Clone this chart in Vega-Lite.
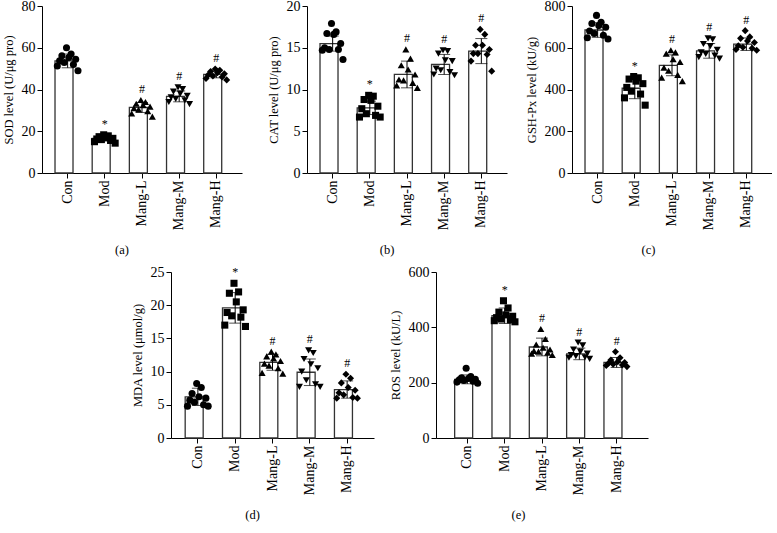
{
  "$schema": "https://vega.github.io/schema/vega-lite/v6.json",
  "background": "white",
  "padding": {"left": 2, "top": -2, "right": 0, "bottom": 0},
  "config": {
    "view": {"stroke": null},
    "font": "Liberation Serif",
    "axis": {"domainColor": "black", "tickColor": "black", "labelColor": "black", "titleColor": "black", "labelFont": "Liberation Serif", "titleFont": "Liberation Serif", "labelFontSize": 14, "titleFontSize": 12.5, "titleFontWeight": "normal", "grid": false, "tickSize": 5, "domainWidth": 1, "tickWidth": 1, "labelPadding": 2, "labelOverlap": false},
    "axisY": {"titlePadding": 6},
    "title": {"font": "Liberation Serif", "fontSize": 12.5, "fontWeight": "normal", "color": "black", "orient": "bottom", "anchor": "middle", "frame": "bounds", "offset": 14}
  },
  "datasets": {
    "sod": [
      {"group": "Con", "rep": 5, "value": 60.0}, {"group": "Con", "rep": 7, "value": 57.0}, {"group": "Con", "rep": 3, "value": 56.2}, {"group": "Con", "rep": 6, "value": 55.3}, {"group": "Con", "rep": 9, "value": 54.5}, {"group": "Con", "rep": 2, "value": 53.7}, {"group": "Con", "rep": 4, "value": 52.9}, {"group": "Con", "rep": 8, "value": 52.0}, {"group": "Con", "rep": 1, "value": 51.3}, {"group": "Con", "rep": 10, "value": 49.0},
      {"group": "Mod", "rep": 5, "value": 18.3}, {"group": "Mod", "rep": 7, "value": 17.8}, {"group": "Mod", "rep": 3, "value": 17.4}, {"group": "Mod", "rep": 6, "value": 17.0}, {"group": "Mod", "rep": 9, "value": 16.6}, {"group": "Mod", "rep": 2, "value": 16.3}, {"group": "Mod", "rep": 4, "value": 16.0}, {"group": "Mod", "rep": 8, "value": 15.6}, {"group": "Mod", "rep": 1, "value": 15.0}, {"group": "Mod", "rep": 10, "value": 14.3},
      {"group": "Mang-L", "rep": 5, "value": 35.0}, {"group": "Mang-L", "rep": 7, "value": 34.0}, {"group": "Mang-L", "rep": 3, "value": 33.2}, {"group": "Mang-L", "rep": 6, "value": 32.5}, {"group": "Mang-L", "rep": 9, "value": 31.8}, {"group": "Mang-L", "rep": 2, "value": 31.0}, {"group": "Mang-L", "rep": 4, "value": 30.4}, {"group": "Mang-L", "rep": 8, "value": 29.6}, {"group": "Mang-L", "rep": 1, "value": 28.5}, {"group": "Mang-L", "rep": 10, "value": 27.0},
      {"group": "Mang-M", "rep": 5, "value": 41.0}, {"group": "Mang-M", "rep": 7, "value": 40.2}, {"group": "Mang-M", "rep": 3, "value": 39.0}, {"group": "Mang-M", "rep": 6, "value": 38.0}, {"group": "Mang-M", "rep": 9, "value": 37.0}, {"group": "Mang-M", "rep": 2, "value": 36.2}, {"group": "Mang-M", "rep": 4, "value": 35.5}, {"group": "Mang-M", "rep": 8, "value": 34.8}, {"group": "Mang-M", "rep": 1, "value": 34.0}, {"group": "Mang-M", "rep": 10, "value": 33.0},
      {"group": "Mang-H", "rep": 5, "value": 49.8}, {"group": "Mang-H", "rep": 7, "value": 49.2}, {"group": "Mang-H", "rep": 3, "value": 48.6}, {"group": "Mang-H", "rep": 6, "value": 48.0}, {"group": "Mang-H", "rep": 9, "value": 47.5}, {"group": "Mang-H", "rep": 2, "value": 47.0}, {"group": "Mang-H", "rep": 4, "value": 46.5}, {"group": "Mang-H", "rep": 8, "value": 46.0}, {"group": "Mang-H", "rep": 1, "value": 45.3}, {"group": "Mang-H", "rep": 10, "value": 44.6}
    ],
    "sod_sum": [
      {"group": "Con", "mean": 53.7, "lo": 50.4, "hi": 57.0, "sig": ""},
      {"group": "Mod", "mean": 16.6, "lo": 15.3, "hi": 17.9, "sig": "*"},
      {"group": "Mang-L", "mean": 31.4, "lo": 29.0, "hi": 33.8, "sig": "#"},
      {"group": "Mang-M", "mean": 36.7, "lo": 34.1, "hi": 39.3, "sig": "#"},
      {"group": "Mang-H", "mean": 47.2, "lo": 45.6, "hi": 48.8, "sig": "#"}
    ],
    "cat": [
      {"group": "Con", "rep": 5, "value": 17.9}, {"group": "Con", "rep": 7, "value": 16.9}, {"group": "Con", "rep": 3, "value": 16.7}, {"group": "Con", "rep": 6, "value": 16.6}, {"group": "Con", "rep": 9, "value": 15.5}, {"group": "Con", "rep": 2, "value": 15.0}, {"group": "Con", "rep": 4, "value": 14.8}, {"group": "Con", "rep": 8, "value": 14.8}, {"group": "Con", "rep": 1, "value": 14.7}, {"group": "Con", "rep": 10, "value": 13.6},
      {"group": "Mod", "rep": 5, "value": 9.3}, {"group": "Mod", "rep": 7, "value": 9.2}, {"group": "Mod", "rep": 3, "value": 8.8}, {"group": "Mod", "rep": 6, "value": 8.7}, {"group": "Mod", "rep": 9, "value": 8.0}, {"group": "Mod", "rep": 2, "value": 7.7}, {"group": "Mod", "rep": 4, "value": 7.1}, {"group": "Mod", "rep": 8, "value": 6.9}, {"group": "Mod", "rep": 1, "value": 6.7}, {"group": "Mod", "rep": 10, "value": 6.7},
      {"group": "Mang-L", "rep": 5, "value": 14.8}, {"group": "Mang-L", "rep": 7, "value": 13.7}, {"group": "Mang-L", "rep": 3, "value": 12.9}, {"group": "Mang-L", "rep": 6, "value": 12.4}, {"group": "Mang-L", "rep": 9, "value": 11.8}, {"group": "Mang-L", "rep": 2, "value": 11.2}, {"group": "Mang-L", "rep": 4, "value": 11.1}, {"group": "Mang-L", "rep": 8, "value": 10.8}, {"group": "Mang-L", "rep": 1, "value": 10.5}, {"group": "Mang-L", "rep": 10, "value": 10.2},
      {"group": "Mang-M", "rep": 5, "value": 14.7}, {"group": "Mang-M", "rep": 7, "value": 14.6}, {"group": "Mang-M", "rep": 3, "value": 14.3}, {"group": "Mang-M", "rep": 6, "value": 13.5}, {"group": "Mang-M", "rep": 9, "value": 13.4}, {"group": "Mang-M", "rep": 2, "value": 12.5}, {"group": "Mang-M", "rep": 4, "value": 12.3}, {"group": "Mang-M", "rep": 8, "value": 12.1}, {"group": "Mang-M", "rep": 1, "value": 11.8}, {"group": "Mang-M", "rep": 10, "value": 11.7},
      {"group": "Mang-H", "rep": 5, "value": 17.2}, {"group": "Mang-H", "rep": 7, "value": 16.6}, {"group": "Mang-H", "rep": 3, "value": 15.3}, {"group": "Mang-H", "rep": 6, "value": 15.3}, {"group": "Mang-H", "rep": 9, "value": 14.8}, {"group": "Mang-H", "rep": 2, "value": 14.3}, {"group": "Mang-H", "rep": 4, "value": 14.3}, {"group": "Mang-H", "rep": 8, "value": 14.2}, {"group": "Mang-H", "rep": 1, "value": 13.4}, {"group": "Mang-H", "rep": 10, "value": 12.2}
    ],
    "cat_sum": [
      {"group": "Con", "mean": 15.5, "lo": 14.6, "hi": 16.4, "sig": ""},
      {"group": "Mod", "mean": 7.8, "lo": 7.0, "hi": 8.6, "sig": "*"},
      {"group": "Mang-L", "mean": 11.8, "lo": 10.2, "hi": 13.4, "sig": "#"},
      {"group": "Mang-M", "mean": 13.0, "lo": 11.8, "hi": 14.2, "sig": "#"},
      {"group": "Mang-H", "mean": 14.6, "lo": 13.1, "hi": 16.1, "sig": "#"}
    ],
    "gsh": [
      {"group": "Con", "rep": 5, "value": 755}, {"group": "Con", "rep": 7, "value": 722}, {"group": "Con", "rep": 3, "value": 716}, {"group": "Con", "rep": 6, "value": 706}, {"group": "Con", "rep": 9, "value": 698}, {"group": "Con", "rep": 2, "value": 680}, {"group": "Con", "rep": 4, "value": 668}, {"group": "Con", "rep": 8, "value": 660}, {"group": "Con", "rep": 1, "value": 648}, {"group": "Con", "rep": 10, "value": 642},
      {"group": "Mod", "rep": 5, "value": 462}, {"group": "Mod", "rep": 7, "value": 456}, {"group": "Mod", "rep": 3, "value": 450}, {"group": "Mod", "rep": 6, "value": 440}, {"group": "Mod", "rep": 9, "value": 428}, {"group": "Mod", "rep": 2, "value": 410}, {"group": "Mod", "rep": 4, "value": 392}, {"group": "Mod", "rep": 8, "value": 378}, {"group": "Mod", "rep": 1, "value": 360}, {"group": "Mod", "rep": 10, "value": 325},
      {"group": "Mang-L", "rep": 5, "value": 588}, {"group": "Mang-L", "rep": 7, "value": 578}, {"group": "Mang-L", "rep": 3, "value": 572}, {"group": "Mang-L", "rep": 6, "value": 545}, {"group": "Mang-L", "rep": 9, "value": 532}, {"group": "Mang-L", "rep": 2, "value": 505}, {"group": "Mang-L", "rep": 4, "value": 490}, {"group": "Mang-L", "rep": 8, "value": 470}, {"group": "Mang-L", "rep": 1, "value": 457}, {"group": "Mang-L", "rep": 10, "value": 440},
      {"group": "Mang-M", "rep": 5, "value": 645}, {"group": "Mang-M", "rep": 7, "value": 640}, {"group": "Mang-M", "rep": 3, "value": 618}, {"group": "Mang-M", "rep": 6, "value": 608}, {"group": "Mang-M", "rep": 9, "value": 590}, {"group": "Mang-M", "rep": 2, "value": 578}, {"group": "Mang-M", "rep": 4, "value": 570}, {"group": "Mang-M", "rep": 8, "value": 562}, {"group": "Mang-M", "rep": 1, "value": 555}, {"group": "Mang-M", "rep": 10, "value": 548},
      {"group": "Mang-H", "rep": 5, "value": 682}, {"group": "Mang-H", "rep": 7, "value": 652}, {"group": "Mang-H", "rep": 3, "value": 645}, {"group": "Mang-H", "rep": 6, "value": 632}, {"group": "Mang-H", "rep": 9, "value": 625}, {"group": "Mang-H", "rep": 2, "value": 610}, {"group": "Mang-H", "rep": 4, "value": 602}, {"group": "Mang-H", "rep": 8, "value": 598}, {"group": "Mang-H", "rep": 1, "value": 592}, {"group": "Mang-H", "rep": 10, "value": 588}
    ],
    "gsh_sum": [
      {"group": "Con", "mean": 685, "lo": 650, "hi": 720, "sig": ""},
      {"group": "Mod", "mean": 406, "lo": 356, "hi": 456, "sig": "*"},
      {"group": "Mang-L", "mean": 516, "lo": 466, "hi": 566, "sig": "#"},
      {"group": "Mang-M", "mean": 585, "lo": 550, "hi": 620, "sig": "#"},
      {"group": "Mang-H", "mean": 617, "lo": 587, "hi": 647, "sig": "#"}
    ],
    "mda": [
      {"group": "Con", "rep": 5, "value": 8.2}, {"group": "Con", "rep": 7, "value": 7.6}, {"group": "Con", "rep": 3, "value": 6.7}, {"group": "Con", "rep": 6, "value": 6.2}, {"group": "Con", "rep": 9, "value": 6.0}, {"group": "Con", "rep": 2, "value": 5.7}, {"group": "Con", "rep": 4, "value": 5.4}, {"group": "Con", "rep": 8, "value": 5.0}, {"group": "Con", "rep": 1, "value": 4.8}, {"group": "Con", "rep": 10, "value": 4.8},
      {"group": "Mod", "rep": 5, "value": 23.3}, {"group": "Mod", "rep": 7, "value": 22.0}, {"group": "Mod", "rep": 3, "value": 21.8}, {"group": "Mod", "rep": 6, "value": 20.5}, {"group": "Mod", "rep": 9, "value": 19.3}, {"group": "Mod", "rep": 2, "value": 18.9}, {"group": "Mod", "rep": 4, "value": 18.4}, {"group": "Mod", "rep": 8, "value": 18.2}, {"group": "Mod", "rep": 1, "value": 17.0}, {"group": "Mod", "rep": 10, "value": 16.8},
      {"group": "Mang-L", "rep": 5, "value": 13.0}, {"group": "Mang-L", "rep": 7, "value": 12.6}, {"group": "Mang-L", "rep": 3, "value": 12.3}, {"group": "Mang-L", "rep": 6, "value": 12.0}, {"group": "Mang-L", "rep": 9, "value": 11.6}, {"group": "Mang-L", "rep": 2, "value": 11.2}, {"group": "Mang-L", "rep": 4, "value": 10.9}, {"group": "Mang-L", "rep": 8, "value": 10.5}, {"group": "Mang-L", "rep": 1, "value": 9.8}, {"group": "Mang-L", "rep": 10, "value": 9.7},
      {"group": "Mang-M", "rep": 5, "value": 13.2}, {"group": "Mang-M", "rep": 7, "value": 12.8}, {"group": "Mang-M", "rep": 3, "value": 11.9}, {"group": "Mang-M", "rep": 6, "value": 11.1}, {"group": "Mang-M", "rep": 9, "value": 10.5}, {"group": "Mang-M", "rep": 2, "value": 10.0}, {"group": "Mang-M", "rep": 4, "value": 8.7}, {"group": "Mang-M", "rep": 8, "value": 8.1}, {"group": "Mang-M", "rep": 1, "value": 7.7}, {"group": "Mang-M", "rep": 10, "value": 7.7},
      {"group": "Mang-H", "rep": 5, "value": 9.6}, {"group": "Mang-H", "rep": 7, "value": 9.0}, {"group": "Mang-H", "rep": 3, "value": 8.3}, {"group": "Mang-H", "rep": 6, "value": 7.6}, {"group": "Mang-H", "rep": 9, "value": 7.2}, {"group": "Mang-H", "rep": 2, "value": 6.8}, {"group": "Mang-H", "rep": 4, "value": 6.5}, {"group": "Mang-H", "rep": 8, "value": 6.1}, {"group": "Mang-H", "rep": 1, "value": 6.0}, {"group": "Mang-H", "rep": 10, "value": 6.0}
    ],
    "mda_sum": [
      {"group": "Con", "mean": 6.2, "lo": 4.9, "hi": 7.5, "sig": ""},
      {"group": "Mod", "mean": 19.6, "lo": 17.3, "hi": 21.9, "sig": "*"},
      {"group": "Mang-L", "mean": 11.4, "lo": 10.2, "hi": 12.6, "sig": "#"},
      {"group": "Mang-M", "mean": 9.9, "lo": 7.9, "hi": 11.9, "sig": "#"},
      {"group": "Mang-H", "mean": 7.3, "lo": 6.0, "hi": 8.6, "sig": "#"}
    ],
    "ros": [
      {"group": "Con", "rep": 5, "value": 252}, {"group": "Con", "rep": 7, "value": 222}, {"group": "Con", "rep": 3, "value": 218}, {"group": "Con", "rep": 6, "value": 215}, {"group": "Con", "rep": 9, "value": 212}, {"group": "Con", "rep": 2, "value": 210}, {"group": "Con", "rep": 4, "value": 208}, {"group": "Con", "rep": 8, "value": 205}, {"group": "Con", "rep": 1, "value": 202}, {"group": "Con", "rep": 10, "value": 198},
      {"group": "Mod", "rep": 5, "value": 496}, {"group": "Mod", "rep": 7, "value": 470}, {"group": "Mod", "rep": 3, "value": 455}, {"group": "Mod", "rep": 6, "value": 445}, {"group": "Mod", "rep": 9, "value": 440}, {"group": "Mod", "rep": 2, "value": 435}, {"group": "Mod", "rep": 4, "value": 430}, {"group": "Mod", "rep": 8, "value": 427}, {"group": "Mod", "rep": 1, "value": 424}, {"group": "Mod", "rep": 10, "value": 420},
      {"group": "Mang-L", "rep": 5, "value": 394}, {"group": "Mang-L", "rep": 7, "value": 358}, {"group": "Mang-L", "rep": 3, "value": 338}, {"group": "Mang-L", "rep": 6, "value": 326}, {"group": "Mang-L", "rep": 9, "value": 320}, {"group": "Mang-L", "rep": 2, "value": 315}, {"group": "Mang-L", "rep": 4, "value": 312}, {"group": "Mang-L", "rep": 8, "value": 308}, {"group": "Mang-L", "rep": 1, "value": 305}, {"group": "Mang-L", "rep": 10, "value": 300},
      {"group": "Mang-M", "rep": 5, "value": 345}, {"group": "Mang-M", "rep": 7, "value": 335}, {"group": "Mang-M", "rep": 3, "value": 320}, {"group": "Mang-M", "rep": 6, "value": 312}, {"group": "Mang-M", "rep": 9, "value": 305}, {"group": "Mang-M", "rep": 2, "value": 300}, {"group": "Mang-M", "rep": 4, "value": 296}, {"group": "Mang-M", "rep": 8, "value": 292}, {"group": "Mang-M", "rep": 1, "value": 290}, {"group": "Mang-M", "rep": 10, "value": 286},
      {"group": "Mang-H", "rep": 5, "value": 312}, {"group": "Mang-H", "rep": 7, "value": 290}, {"group": "Mang-H", "rep": 3, "value": 282}, {"group": "Mang-H", "rep": 6, "value": 276}, {"group": "Mang-H", "rep": 9, "value": 273}, {"group": "Mang-H", "rep": 2, "value": 270}, {"group": "Mang-H", "rep": 4, "value": 267}, {"group": "Mang-H", "rep": 8, "value": 264}, {"group": "Mang-H", "rep": 1, "value": 262}, {"group": "Mang-H", "rep": 10, "value": 258}
    ],
    "ros_sum": [
      {"group": "Con", "mean": 212, "lo": 196, "hi": 228, "sig": ""},
      {"group": "Mod", "mean": 442, "lo": 414, "hi": 470, "sig": "*"},
      {"group": "Mang-L", "mean": 329, "lo": 297, "hi": 361, "sig": "#"},
      {"group": "Mang-M", "mean": 304, "lo": 283, "hi": 325, "sig": "#"},
      {"group": "Mang-H", "mean": 273, "lo": 255, "hi": 291, "sig": "#"}
    ]
  },
  "vconcat": [
    {
      "hconcat": [
        {
          "width": 200, "height": 167,
          "title": {"text": "(a)"},
          "data": {"name": "sod"},
          "layer": [
            {"data": {"name": "sod_sum"}, "mark": {"type": "bar", "fill": "white", "stroke": "#333", "strokeWidth": 1.3},
             "encoding": {"x": {"field": "group", "type": "nominal", "title": null, "scale": {"domain": ["Con", "Mod", "Mang-L", "Mang-M", "Mang-H"], "paddingInner": 0.32, "paddingOuter": 0.35}, "axis": {"labelAngle": -90}},
                          "y": {"field": "mean", "type": "quantitative", "title": "SOD level (U/μg pro)", "scale": {"domain": [0, 80], "nice": false}, "axis": {"values": [0, 20, 40, 60, 80]}}}},
            {"data": {"name": "sod_sum"}, "mark": {"type": "errorbar", "ticks": {"size": 12, "color": "black"}, "color": "black", "thickness": 1},
             "encoding": {"x": {"field": "group", "type": "nominal"}, "y": {"field": "lo", "type": "quantitative", "title": "SOD level (U/μg pro)", "axis": {"values": [0, 20, 40, 60, 80]}}, "y2": {"field": "hi"}}},
            {"mark": {"type": "point", "filled": true, "color": "black", "size": 50, "opacity": 1},
             "encoding": {"x": {"field": "group", "type": "nominal"}, "xOffset": {"field": "rep", "type": "nominal", "scale": {"paddingOuter": 1}}, "y": {"field": "value", "type": "quantitative", "title": "SOD level (U/μg pro)", "axis": {"values": [0, 20, 40, 60, 80]}},
                          "shape": {"field": "group", "type": "nominal", "legend": null, "scale": {"domain": ["Con", "Mod", "Mang-L", "Mang-M", "Mang-H"], "range": ["circle", "square", "triangle-up", "triangle-down", "diamond"]}}}},
            {"transform": [{"aggregate": [{"op": "max", "field": "value", "as": "top"}], "groupby": ["group"]}, {"lookup": "group", "from": {"data": {"name": "sod_sum"}, "key": "group", "fields": ["sig"]}}],
             "mark": {"type": "text", "baseline": "bottom", "dy": -4, "fontSize": 12, "font": "Liberation Serif", "color": "black"},
             "encoding": {"x": {"field": "group", "type": "nominal"}, "y": {"field": "top", "type": "quantitative", "title": "SOD level (U/μg pro)", "axis": {"values": [0, 20, 40, 60, 80]}}, "text": {"field": "sig"}}}
          ]
        },
        {
          "width": 200, "height": 167,
          "title": {"text": "(b)"},
          "data": {"name": "cat"},
          "layer": [
            {"data": {"name": "cat_sum"}, "mark": {"type": "bar", "fill": "white", "stroke": "#333", "strokeWidth": 1.3},
             "encoding": {"x": {"field": "group", "type": "nominal", "title": null, "scale": {"domain": ["Con", "Mod", "Mang-L", "Mang-M", "Mang-H"], "paddingInner": 0.32, "paddingOuter": 0.35}, "axis": {"labelAngle": -90}},
                          "y": {"field": "mean", "type": "quantitative", "title": "CAT level (U/μg pro)", "scale": {"domain": [0, 20], "nice": false}, "axis": {"values": [0, 5, 10, 15, 20]}}}},
            {"data": {"name": "cat_sum"}, "mark": {"type": "errorbar", "ticks": {"size": 12, "color": "black"}, "color": "black", "thickness": 1},
             "encoding": {"x": {"field": "group", "type": "nominal"}, "y": {"field": "lo", "type": "quantitative", "title": "CAT level (U/μg pro)", "axis": {"values": [0, 5, 10, 15, 20]}}, "y2": {"field": "hi"}}},
            {"mark": {"type": "point", "filled": true, "color": "black", "size": 50, "opacity": 1},
             "encoding": {"x": {"field": "group", "type": "nominal"}, "xOffset": {"field": "rep", "type": "nominal", "scale": {"paddingOuter": 1}}, "y": {"field": "value", "type": "quantitative", "title": "CAT level (U/μg pro)", "axis": {"values": [0, 5, 10, 15, 20]}},
                          "shape": {"field": "group", "type": "nominal", "legend": null, "scale": {"domain": ["Con", "Mod", "Mang-L", "Mang-M", "Mang-H"], "range": ["circle", "square", "triangle-up", "triangle-down", "diamond"]}}}},
            {"transform": [{"aggregate": [{"op": "max", "field": "value", "as": "top"}], "groupby": ["group"]}, {"lookup": "group", "from": {"data": {"name": "cat_sum"}, "key": "group", "fields": ["sig"]}}],
             "mark": {"type": "text", "baseline": "bottom", "dy": -4, "fontSize": 12, "font": "Liberation Serif", "color": "black"},
             "encoding": {"x": {"field": "group", "type": "nominal"}, "y": {"field": "top", "type": "quantitative", "title": "CAT level (U/μg pro)", "axis": {"values": [0, 5, 10, 15, 20]}}, "text": {"field": "sig"}}}
          ]
        },
        {
          "width": 200, "height": 167,
          "title": {"text": "(c)"},
          "data": {"name": "gsh"},
          "layer": [
            {"data": {"name": "gsh_sum"}, "mark": {"type": "bar", "fill": "white", "stroke": "#333", "strokeWidth": 1.3},
             "encoding": {"x": {"field": "group", "type": "nominal", "title": null, "scale": {"domain": ["Con", "Mod", "Mang-L", "Mang-M", "Mang-H"], "paddingInner": 0.32, "paddingOuter": 0.35}, "axis": {"labelAngle": -90}},
                          "y": {"field": "mean", "type": "quantitative", "title": "GSH-Px level (kU/g)", "scale": {"domain": [0, 800], "nice": false}, "axis": {"values": [0, 200, 400, 600, 800]}}}},
            {"data": {"name": "gsh_sum"}, "mark": {"type": "errorbar", "ticks": {"size": 12, "color": "black"}, "color": "black", "thickness": 1},
             "encoding": {"x": {"field": "group", "type": "nominal"}, "y": {"field": "lo", "type": "quantitative", "title": "GSH-Px level (kU/g)", "axis": {"values": [0, 200, 400, 600, 800]}}, "y2": {"field": "hi"}}},
            {"mark": {"type": "point", "filled": true, "color": "black", "size": 50, "opacity": 1},
             "encoding": {"x": {"field": "group", "type": "nominal"}, "xOffset": {"field": "rep", "type": "nominal", "scale": {"paddingOuter": 1}}, "y": {"field": "value", "type": "quantitative", "title": "GSH-Px level (kU/g)", "axis": {"values": [0, 200, 400, 600, 800]}},
                          "shape": {"field": "group", "type": "nominal", "legend": null, "scale": {"domain": ["Con", "Mod", "Mang-L", "Mang-M", "Mang-H"], "range": ["circle", "square", "triangle-up", "triangle-down", "diamond"]}}}},
            {"transform": [{"aggregate": [{"op": "max", "field": "value", "as": "top"}], "groupby": ["group"]}, {"lookup": "group", "from": {"data": {"name": "gsh_sum"}, "key": "group", "fields": ["sig"]}}],
             "mark": {"type": "text", "baseline": "bottom", "dy": -4, "fontSize": 12, "font": "Liberation Serif", "color": "black"},
             "encoding": {"x": {"field": "group", "type": "nominal"}, "y": {"field": "top", "type": "quantitative", "title": "GSH-Px level (kU/g)", "axis": {"values": [0, 200, 400, 600, 800]}}, "text": {"field": "sig"}}}
          ]
        }
      ],
      "spacing": 65,
      "bounds": "flush"
    },
    {
      "hconcat": [
        {
          "width": 67, "height": 166,
          "data": {"values": []},
          "mark": {"type": "point", "opacity": 0},
          "encoding": {}
        },
        {
          "width": 203, "height": 166,
          "title": {"text": "(d)"},
          "data": {"name": "mda"},
          "layer": [
            {"data": {"name": "mda_sum"}, "mark": {"type": "bar", "fill": "white", "stroke": "#333", "strokeWidth": 1.3},
             "encoding": {"x": {"field": "group", "type": "nominal", "title": null, "scale": {"domain": ["Con", "Mod", "Mang-L", "Mang-M", "Mang-H"], "paddingInner": 0.32, "paddingOuter": 0.38}, "axis": {"labelAngle": -90}},
                          "y": {"field": "mean", "type": "quantitative", "title": "MDA level (μmol/g)", "scale": {"domain": [0, 25], "nice": false}, "axis": {"values": [0, 5, 10, 15, 20, 25]}}}},
            {"data": {"name": "mda_sum"}, "mark": {"type": "errorbar", "ticks": {"size": 12, "color": "black"}, "color": "black", "thickness": 1},
             "encoding": {"x": {"field": "group", "type": "nominal"}, "y": {"field": "lo", "type": "quantitative", "title": "MDA level (μmol/g)", "axis": {"values": [0, 5, 10, 15, 20, 25]}}, "y2": {"field": "hi"}}},
            {"mark": {"type": "point", "filled": true, "color": "black", "size": 50, "opacity": 1},
             "encoding": {"x": {"field": "group", "type": "nominal"}, "xOffset": {"field": "rep", "type": "nominal", "scale": {"paddingOuter": 1}}, "y": {"field": "value", "type": "quantitative", "title": "MDA level (μmol/g)", "axis": {"values": [0, 5, 10, 15, 20, 25]}},
                          "shape": {"field": "group", "type": "nominal", "legend": null, "scale": {"domain": ["Con", "Mod", "Mang-L", "Mang-M", "Mang-H"], "range": ["circle", "square", "triangle-up", "triangle-down", "diamond"]}}}},
            {"transform": [{"aggregate": [{"op": "max", "field": "value", "as": "top"}], "groupby": ["group"]}, {"lookup": "group", "from": {"data": {"name": "mda_sum"}, "key": "group", "fields": ["sig"]}}],
             "mark": {"type": "text", "baseline": "bottom", "dy": -4, "fontSize": 12, "font": "Liberation Serif", "color": "black"},
             "encoding": {"x": {"field": "group", "type": "nominal"}, "y": {"field": "top", "type": "quantitative", "title": "MDA level (μmol/g)", "axis": {"values": [0, 5, 10, 15, 20, 25]}}, "text": {"field": "sig"}}}
          ]
        },
        {
          "width": 212, "height": 166,
          "title": {"text": "(e)"},
          "data": {"name": "ros"},
          "layer": [
            {"data": {"name": "ros_sum"}, "mark": {"type": "bar", "fill": "white", "stroke": "#333", "strokeWidth": 1.3},
             "encoding": {"x": {"field": "group", "type": "nominal", "title": null, "scale": {"domain": ["Con", "Mod", "Mang-L", "Mang-M", "Mang-H"], "paddingInner": 0.32, "paddingOuter": 0.5}, "axis": {"labelAngle": -90}},
                          "y": {"field": "mean", "type": "quantitative", "title": "ROS level (kU/L)", "scale": {"domain": [0, 600], "nice": false}, "axis": {"values": [0, 200, 400, 600]}}}},
            {"data": {"name": "ros_sum"}, "mark": {"type": "errorbar", "ticks": {"size": 12, "color": "black"}, "color": "black", "thickness": 1},
             "encoding": {"x": {"field": "group", "type": "nominal"}, "y": {"field": "lo", "type": "quantitative", "title": "ROS level (kU/L)", "axis": {"values": [0, 200, 400, 600]}}, "y2": {"field": "hi"}}},
            {"mark": {"type": "point", "filled": true, "color": "black", "size": 50, "opacity": 1},
             "encoding": {"x": {"field": "group", "type": "nominal"}, "xOffset": {"field": "rep", "type": "nominal", "scale": {"paddingOuter": 1}}, "y": {"field": "value", "type": "quantitative", "title": "ROS level (kU/L)", "axis": {"values": [0, 200, 400, 600]}},
                          "shape": {"field": "group", "type": "nominal", "legend": null, "scale": {"domain": ["Con", "Mod", "Mang-L", "Mang-M", "Mang-H"], "range": ["circle", "square", "triangle-up", "triangle-down", "diamond"]}}}},
            {"transform": [{"aggregate": [{"op": "max", "field": "value", "as": "top"}], "groupby": ["group"]}, {"lookup": "group", "from": {"data": {"name": "ros_sum"}, "key": "group", "fields": ["sig"]}}],
             "mark": {"type": "text", "baseline": "bottom", "dy": -4, "fontSize": 12, "font": "Liberation Serif", "color": "black"},
             "encoding": {"x": {"field": "group", "type": "nominal"}, "y": {"field": "top", "type": "quantitative", "title": "ROS level (kU/L)", "axis": {"values": [0, 200, 400, 600]}}, "text": {"field": "sig"}}}
          ]
        }
      ],
      "spacing": 62,
      "bounds": "flush"
    }
  ],
  "spacing": 8,
  "bounds": "full"
}
